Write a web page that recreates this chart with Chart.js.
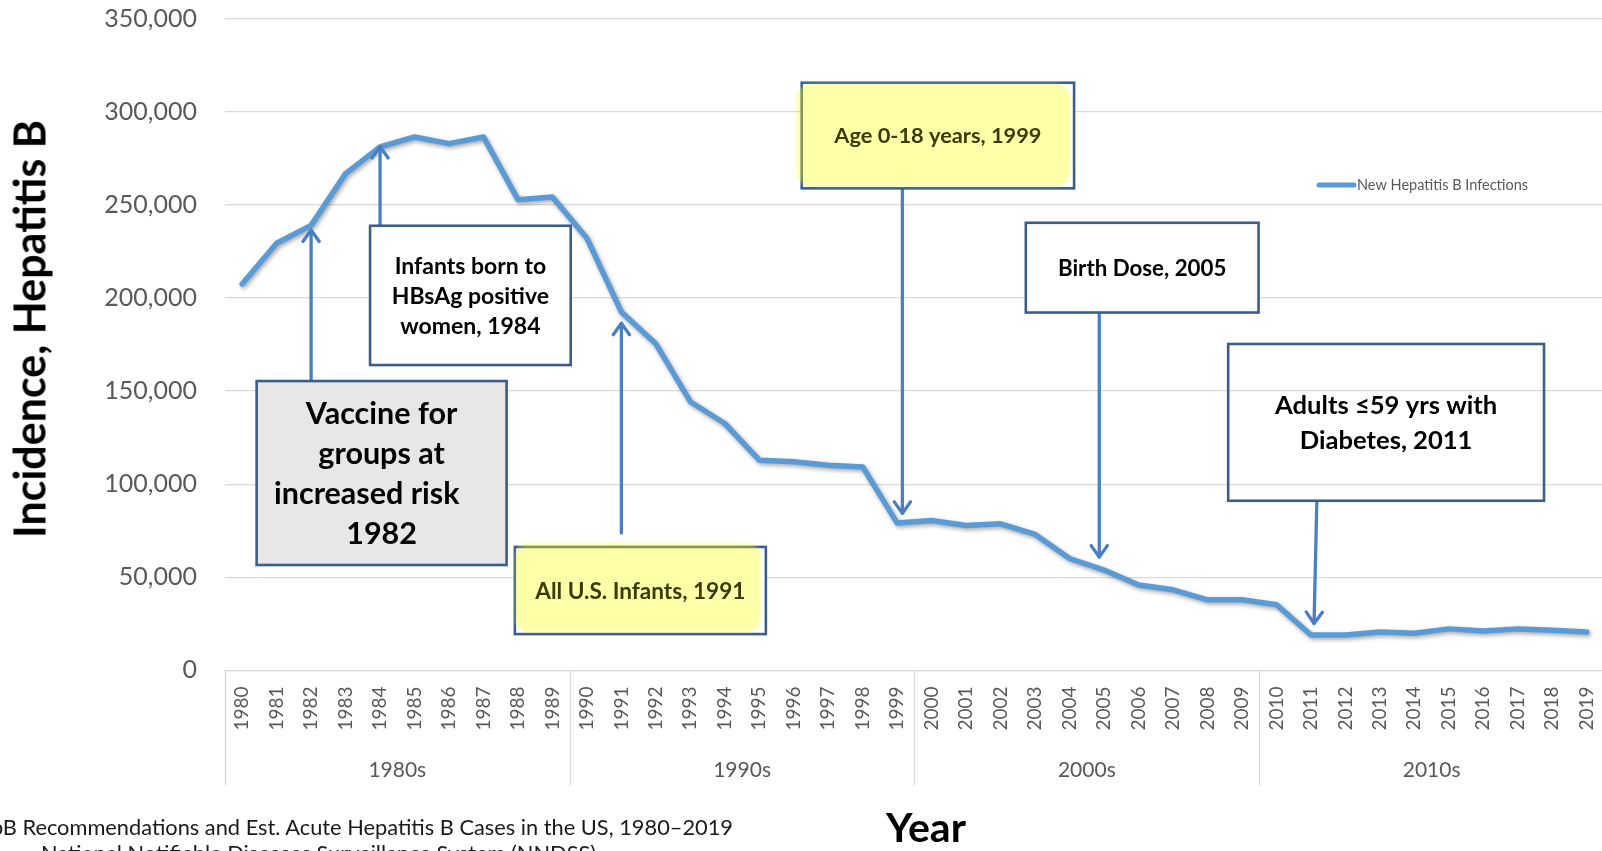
<!DOCTYPE html>
<html>
<head>
<meta charset="utf-8">
<script src="https://cdn.jsdelivr.net/npm/chart.js@4.4.1/dist/chart.umd.min.js"></script>
<style>
  html, body { margin: 0; padding: 0; width: 1602px; height: 851px; overflow: hidden; background: #fff; font-family: Lato, "Open Sans", sans-serif; }
  #wrap { position: absolute; left: 0; top: 0; width: 1620px; height: 851px; }
  .t { position: absolute; white-space: nowrap; line-height: 1; }
  #ytitle { left: 29px; top: 329px; font-size: 43px; font-weight: 700; color: #000; transform: translate(-50%, -50%) rotate(-90deg); }
  #xtitle { left: 926px; top: 806px; font-size: 41px; font-weight: 700; color: #000; transform: translateX(-50%); }
  #src1 { left: 733px; top: 816px; font-size: 21.8px; color: #1a1a1a; transform: translateX(-100%); }
  #src2 { left: 41px; top: 842px; font-size: 21.8px; color: #1a1a1a; }
</style>
</head>
<body>
<div id="wrap"><canvas id="c" width="1620" height="851"></canvas></div>
<div class="t" id="ytitle">Incidence, Hepatitis B</div>
<div class="t" id="xtitle">Year</div>
<div class="t" id="src1">HepB Recommendations and Est. Acute Hepatitis B Cases in the US, 1980–2019</div>
<div class="t" id="src2">National Notifiable Diseases Surveillance System (NNDSS)</div>
<script>
// Estimated new acute hepatitis B infections per year
const years = ['1980','1981','1982','1983','1984','1985','1986','1987','1988','1989',
               '1990','1991','1992','1993','1994','1995','1996','1997','1998','1999',
               '2000','2001','2002','2003','2004','2005','2006','2007','2008','2009',
               '2010','2011','2012','2013','2014','2015','2016','2017','2018','2019'];
const newInfections = [207500, 229400, 239000, 266800, 281100, 286500, 282900, 286500, 252800, 254200,
                       232100, 192500, 175400, 144300, 132600, 112900, 112000, 110200, 109300, 79100,
                       80500, 77800, 78700, 73000, 60100, 53900, 45900, 43300, 37900, 37900,
                       35300, 19000, 19000, 20600, 19900, 22300, 21100, 22300, 21600, 20600];
const decades = ['1980s', '1990s', '2000s', '2010s'];
const decadeStarts = [1980, 1990, 2000, 2010];
const yTickValues = [0, 50000, 100000, 150000, 200000, 250000, 300000, 350000];
const seriesName = 'New Hepatitis B Infections';

// Vaccination recommendation call-outs, placed in axis units (year, cases)
const recommendations = [
  { lines: ['Vaccine for', 'groups at', 'increased risk    ', '1982'], x0: 1980.42, x1: 1987.67, y0: 155400, y1: 56600,
    fill: '#e7e7e7', size: 30.5, lh: 40, arrow: { x0: 1982, x1: 1982, from: 155400, to: 236500 } },
  { lines: ['Infants born to', 'HBsAg positive', 'women, 1984'], x0: 1983.71, x1: 1989.53, y0: 238800, y1: 164000,
    fill: '#ffffff', size: 23, lh: 30, arrow: { x0: 1984, x1: 1984, from: 238800, to: 281300 } },
  { lines: ['All U.S. Infants, 1991'], x0: 1987.91, x1: 1995.19, y0: 66300, y1: 19500,
    fill: '#ffffff', size: 22.6, lh: 30, glow: [0, -4, -5, -2], arrow: { x0: 1991, x1: 1991, from: 73800, to: 186400 } },
  { lines: ['Age 0-18 years, 1999'], x0: 1996.23, x1: 2004.13, y0: 315600, y1: 258900,
    fill: '#ffffff', size: 21.8, lh: 30, glow: [-5, 1, -4, -2], arrow: { x0: 1999.15, x1: 1999.15, from: 258900, to: 84400 } },
  { lines: ['Birth Dose, 2005'], x0: 2002.73, x1: 2009.48, y0: 240400, y1: 192200,
    fill: '#ffffff', size: 22.3, lh: 30, arrow: { x0: 2004.86, x1: 2004.86, from: 192200, to: 60900 } },
  { lines: ['Adults \u226459 yrs with', 'Diabetes, 2011'], x0: 2008.60, x1: 2017.76, y0: 175300, y1: 91100,
    fill: null, size: 25.6, lh: 35, arrow: { x0: 2011.17, x1: 2011.09, from: 90100, to: 25200 } }
];

const FONT = 'Lato, "Open Sans", sans-serif';

const lineShadow = {
  id: 'lineShadow',
  beforeDatasetDraw(chart) {
    const c = chart.ctx;
    c.save();
    c.shadowColor = 'rgba(0,0,0,0.35)';
    c.shadowBlur = 4;
    c.shadowOffsetX = 1.5;
    c.shadowOffsetY = 2;
  },
  afterDatasetDraw(chart) { chart.ctx.restore(); }
};

const decadeAxis = {
  id: 'decadeAxis',
  afterDraw(chart) {
    const { ctx, chartArea, scales: { x } } = chart;
    const px = yr => x.getPixelForValue(yr - 1980);
    ctx.save();
    ctx.strokeStyle = '#d9d9d9';
    ctx.lineWidth = 1.3;
    const bounds = decadeStarts.map(d => d - 0.5).concat([decadeStarts[decadeStarts.length - 1] + 9.5]);
    bounds.forEach(b => {
      const xx = Math.round(px(b)) + 0.5;
      ctx.beginPath();
      ctx.moveTo(xx, chartArea.bottom);
      ctx.lineTo(xx, chartArea.bottom + 115);
      ctx.stroke();
    });
    ctx.fillStyle = '#595959';
    ctx.font = '21px ' + FONT;
    ctx.textAlign = 'center';
    ctx.textBaseline = 'middle';
    decades.forEach((d, i) => ctx.fillText(d, px(decadeStarts[i] + 4.5), chartArea.bottom + 100));
    ctx.restore();
  }
};

const legendMark = {
  id: 'legendMark',
  afterDraw(chart) {
    const ctx = chart.ctx;
    const ds = chart.data.datasets[0];
    ctx.save();
    ctx.strokeStyle = ds.borderColor;
    ctx.lineWidth = 5;
    ctx.lineCap = 'round';
    ctx.beginPath();
    ctx.moveTo(1319, 185);
    ctx.lineTo(1354, 185);
    ctx.stroke();
    ctx.fillStyle = '#595959';
    ctx.font = '14.5px ' + FONT;
    ctx.textBaseline = 'middle';
    ctx.fillText(ds.label, 1357, 185);
    ctx.restore();
  }
};

const callouts = {
  id: 'callouts',
  afterDatasetsDraw(chart) {
    const { ctx, scales: { x, y } } = chart;
    const px = yr => x.getPixelForValue(yr - 1980);
    const py = v => y.getPixelForValue(v);
    ctx.save();
    // arrows
    recommendations.forEach(r => {
      const a = r.arrow;
      const xa = px(a.x0), ya = py(a.from), xb = px(a.x1), yb = py(a.to);
      const ang = Math.atan2(yb - ya, xb - xa);
      ctx.strokeStyle = '#4a7fc1';
      ctx.lineWidth = 3.3;
      ctx.lineCap = 'round';
      ctx.lineJoin = 'round';
      ctx.beginPath();
      ctx.moveTo(xa, ya);
      ctx.lineTo(xb, yb);
      ctx.stroke();
      const hl = 14, hw = 0.62;
      ctx.beginPath();
      ctx.moveTo(xb - hl * Math.cos(ang - hw), yb - hl * Math.sin(ang - hw));
      ctx.lineTo(xb, yb);
      ctx.lineTo(xb - hl * Math.cos(ang + hw), yb - hl * Math.sin(ang + hw));
      ctx.stroke();
    });
    // boxes and text
    recommendations.forEach(r => {
      const L = px(r.x0), R = px(r.x1), T = py(r.y0), B = py(r.y1);
      if (r.fill) {
        ctx.fillStyle = r.fill;
        ctx.fillRect(L, T, R - L, B - T);
      }
      ctx.strokeStyle = '#3a5e8c';
      ctx.lineWidth = 2.6;
      ctx.lineJoin = 'miter';
      ctx.strokeRect(L, T, R - L, B - T);
      if (r.glow) {
        // translucent yellow highlight laid over the box
        const [gl, gt, gr, gb] = r.glow;
        ctx.save();
        ctx.filter = 'blur(1.5px)';
        ctx.fillStyle = 'rgba(255,255,0,0.34)';
        ctx.beginPath();
        ctx.roundRect(L + gl, T + gt, (R + gr) - (L + gl), (B + gb) - (T + gt), 14);
        ctx.fill();
        ctx.restore();
      }
      ctx.fillStyle = r.glow ? '#3b3b06' : '#000';
      ctx.font = 'bold ' + r.size + 'px ' + FONT;
      ctx.textAlign = 'center';
      ctx.textBaseline = 'alphabetic';
      const cx = (L + R) / 2, cy = (T + B) / 2, cap = 0.716 * r.size, n = r.lines.length;
      r.lines.forEach((s, i) => ctx.fillText(s, cx, cy + (i - (n - 1) / 2) * r.lh + cap / 2));
    });
    ctx.restore();
  }
};

function build() {
  new Chart(document.getElementById('c'), {
    type: 'line',
    data: {
      labels: years,
      datasets: [{
        label: seriesName,
        data: newInfections,
        borderColor: '#5b9bd5',
        borderWidth: 5.5,
        pointRadius: 0,
        tension: 0,
        borderJoinStyle: 'round',
        borderCapStyle: 'round',
        fill: false
      }]
    },
    options: {
      responsive: false,
      animation: false,
      events: [],
      layout: { padding: { top: 18.7, right: 16, left: 0, bottom: 0 } },
      plugins: { legend: { display: false }, tooltip: { enabled: false } },
      scales: {
        x: {
          type: 'category',
          offset: true,
          grid: { display: false, drawTicks: false },
          border: { display: true, color: '#d9d9d9', width: 1.3 },
          ticks: {
            autoSkip: false, minRotation: 90, maxRotation: 90, padding: 16,
            color: '#595959', font: { family: FONT, size: 19 }
          },
          afterFit(scale) { scale.height = 180.6; scale.paddingLeft = 0; scale.paddingRight = 0; }
        },
        y: {
          min: 0, max: 350000,
          afterBuildTicks(scale) { scale.ticks = yTickValues.map(v => ({ value: v })); },
          grid: { color: '#d9d9d9', lineWidth: 1.3, drawTicks: false },
          border: { display: false },
          ticks: {
            padding: 28, color: '#595959', font: { family: FONT, size: 25 },
            callback: v => v.toLocaleString('en-US')
          },
          afterFit(scale) { scale.width = 224.9; scale.paddingTop = 0; scale.paddingBottom = 0; }
        }
      }
    },
    plugins: [lineShadow, callouts, decadeAxis, legendMark]
  });
}

Promise.all([
  document.fonts.load('21px Lato'),
  document.fonts.load('bold 21px Lato')
]).then(build, build);
</script>
</body>
</html>
